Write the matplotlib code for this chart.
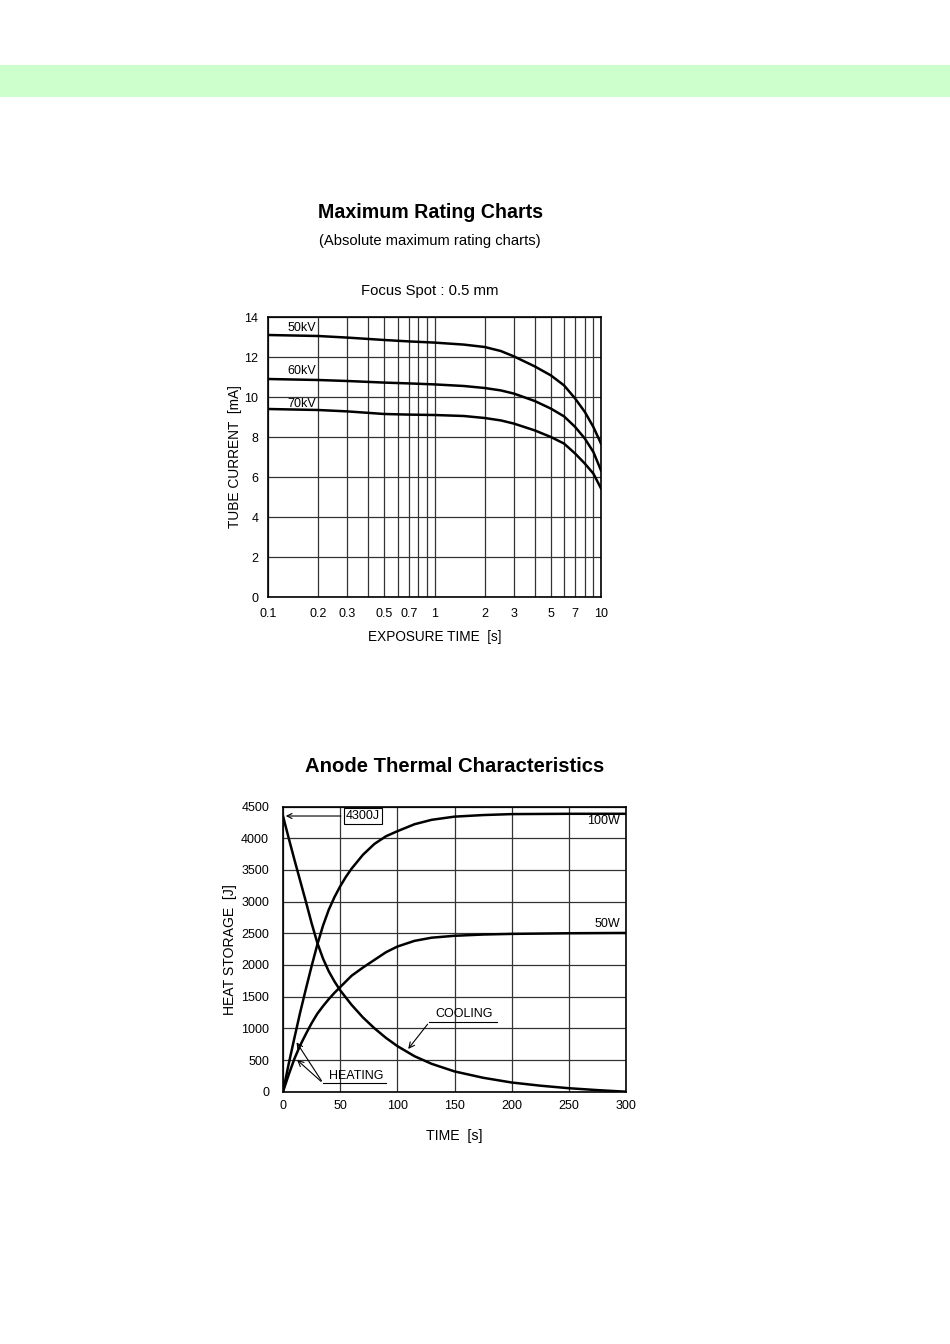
import matplotlib
matplotlib.use("Agg")
import matplotlib.pyplot as plt
from matplotlib.patches import Rectangle

plt.rcParams["font.family"] = ["Liberation Sans", "DejaVu Sans"]

# --- Maximum rating chart (tube current vs exposure time) ---
exposure_time = [0.1, 0.2, 0.3, 0.5, 0.7, 1, 1.5, 2, 2.5, 3, 4, 5, 6, 7, 8, 9, 10]
current_50kv = [13.1, 13.05, 12.97, 12.85, 12.78, 12.72, 12.62, 12.5, 12.3, 12.03, 11.53, 11.08, 10.58, 9.92, 9.25, 8.5, 7.67]
current_60kv = [10.9, 10.85, 10.8, 10.72, 10.68, 10.63, 10.55, 10.45, 10.33, 10.17, 9.8, 9.42, 9.03, 8.5, 7.92, 7.25, 6.33]
current_70kv = [9.4, 9.35, 9.28, 9.15, 9.12, 9.1, 9.05, 8.95, 8.83, 8.67, 8.33, 8.0, 7.67, 7.17, 6.67, 6.17, 5.43]
kv_labels = ["50kV", "60kV", "70kV"]
kv_label_y = [13.45, 11.3, 9.65]
time_ticks = [0.1, 0.2, 0.3, 0.5, 0.7, 1, 2, 3, 5, 7, 10]
time_tick_labels = ["0.1", "0.2", "0.3", "0.5", "0.7", "1", "2", "3", "5", "7", "10"]

# --- Anode thermal characteristics ---
heat_time = [0, 5, 10, 15, 20, 25, 30, 35, 40, 45, 50, 55, 60, 70, 80, 90, 100, 115, 130, 150, 175, 200, 250, 300]
heat_100w = [0, 440, 850, 1250, 1620, 1980, 2320, 2620, 2870, 3070, 3240, 3390, 3520, 3740, 3910, 4030, 4110, 4220, 4290, 4340, 4365, 4380, 4385, 4385]
heat_50w = [0, 270, 520, 730, 910, 1080, 1230, 1350, 1460, 1560, 1650, 1740, 1830, 1960, 2080, 2200, 2290, 2380, 2430, 2460, 2480, 2490, 2500, 2505]
cool_time = [0, 5, 10, 15, 20, 25, 30, 35, 40, 45, 50, 60, 70, 80, 90, 100, 115, 130, 150, 175, 200, 225, 250, 275, 300]
cool_curve = [4350, 4000, 3660, 3330, 3000, 2660, 2350, 2100, 1900, 1740, 1600, 1370, 1170, 1000, 850, 720, 560, 440, 320, 220, 145, 95, 55, 25, 0]

W, H = 950, 1344
fig = plt.figure(figsize=(W / 100, H / 100), dpi=100)


def fy(py):
    return 1 - py / H


# green header band
fig.add_artist(Rectangle((0, fy(97)), 1, 32 / H, transform=fig.transFigure,
                         facecolor="#ccffcc", edgecolor="none"))

fig.text(430 / W, fy(213), "Maximum Rating Charts", ha="center", va="center",
         fontsize=14.1, fontweight="bold")
fig.text(430 / W, fy(241), "(Absolute maximum rating charts)", ha="center", va="center", fontsize=10.6)
fig.text(430 / W, fy(291), "Focus Spot : 0.5 mm", ha="center", va="center", fontsize=10.7)
fig.text(455 / W, fy(766), "Anode Thermal Characteristics", ha="center", va="center",
         fontsize=14.6, fontweight="bold")

grid_kw = dict(color="#333333", linewidth=0.9)

# top chart
ax1 = fig.add_axes([268 / W, fy(597), (601 - 268) / W, (597 - 317) / H])
ax1.set_xscale("log")
ax1.set_xlim(0.1, 10)
ax1.set_ylim(0, 14)
ax1.set_yticks(range(0, 15, 2))
ax1.set_xticks(time_ticks)
ax1.set_xticklabels(time_tick_labels)
ax1.grid(True, which="both", axis="x", **grid_kw)
ax1.grid(True, which="major", axis="y", **grid_kw)
ax1.tick_params(which="both", length=0, labelsize=9)
ax1.tick_params(axis="x", pad=8)
ax1.tick_params(axis="y", pad=7)
ax1.xaxis.set_minor_formatter(plt.NullFormatter())
for curve in (current_50kv, current_60kv, current_70kv):
    ax1.plot(exposure_time, curve, color="black", linewidth=1.8)
for name, y in zip(kv_labels, kv_label_y):
    ax1.text(0.16, y, name, ha="center", va="center", fontsize=9)
ax1.set_xlabel("EXPOSURE TIME  [s]", fontsize=9.8, labelpad=7)
ax1.set_ylabel("TUBE CURRENT  [mA]", fontsize=9.9, labelpad=2)
for s in ax1.spines.values():
    s.set_linewidth(1.2)

# bottom chart
ax2 = fig.add_axes([283 / W, fy(1091.7), (626 - 283) / W, (1091.7 - 806.5) / H])
ax2.set_xlim(0, 300)
ax2.set_ylim(0, 4500)
ax2.set_xticks(range(0, 301, 50))
ax2.set_yticks(range(0, 4501, 500))
ax2.grid(True, **grid_kw)
ax2.tick_params(length=0, labelsize=9)
ax2.tick_params(axis="x", pad=6)
ax2.tick_params(axis="y", pad=10)
ax2.plot(heat_time, heat_100w, color="black", linewidth=1.8)
ax2.plot(heat_time, heat_50w, color="black", linewidth=1.8)
ax2.plot(cool_time, cool_curve, color="black", linewidth=1.8)
ax2.set_xlabel("TIME  [s]", fontsize=10.2, labelpad=12)
ax2.set_ylabel("HEAT STORAGE  [J]", fontsize=10.1, labelpad=3)
for s in ax2.spines.values():
    s.set_linewidth(1.2)

arrow_kw = dict(arrowstyle="->", color="black", linewidth=0.8)
ax2.annotate("4300J", xy=(0, 4350), xytext=(70, 4350), ha="center", va="center", fontsize=9,
             bbox=dict(boxstyle="square,pad=0.15", facecolor="white", edgecolor="black", linewidth=0.8),
             arrowprops=arrow_kw)
ax2.text(295, 4270, "100W", ha="right", va="center", fontsize=9)
ax2.text(295, 2640, "50W", ha="right", va="center", fontsize=9)

ax2.text(158, 1230, "COOLING", ha="center", va="center", fontsize=9)
ax2.plot([128, 187], [1100, 1100], color="black", linewidth=0.8)
ax2.annotate("", xy=(108, 640), xytext=(128, 1100), arrowprops=arrow_kw)

ax2.text(64, 250, "HEATING", ha="center", va="center", fontsize=9)
ax2.plot([35, 90], [135, 135], color="black", linewidth=0.8)
ax2.annotate("", xy=(10.5, 816), xytext=(35, 135), arrowprops=arrow_kw)
ax2.annotate("", xy=(10.5, 530), xytext=(35, 135), arrowprops=arrow_kw)

fig.savefig("out.png", dpi=100)
